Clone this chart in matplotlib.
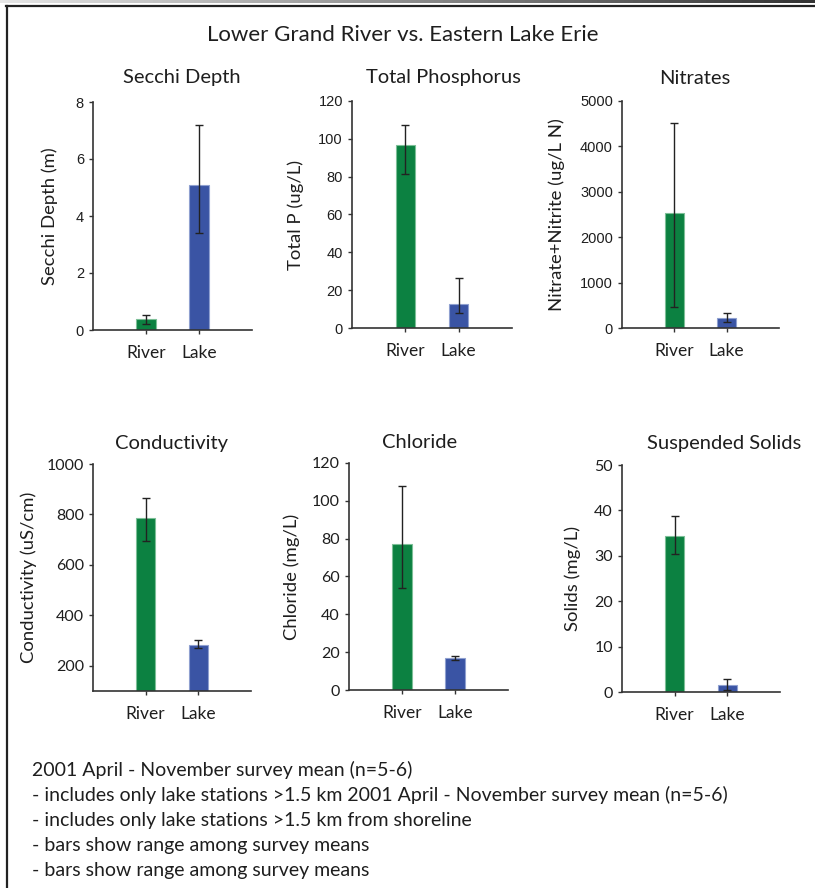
import numpy as np
import matplotlib
matplotlib.use("Agg")
import matplotlib.pyplot as plt
from matplotlib.lines import Line2D

# -------------------------------
# Survey data (2001, April - November)
# -------------------------------
sites = ["River", "Lake"]

secchi = [0.39, 5.1]
secchi_lo = [0.22, 3.4]
secchi_hi = [0.54, 7.2]

phos = [97.0, 12.7]
phos_lo = [81.6, 8.1]
phos_hi = [107.3, 26.4]

nitrate = [2540, 220]
nitrate_lo = [455, 125]
nitrate_hi = [4510, 323]

cond = [785, 281]
cond_lo = [696, 270]
cond_hi = [865, 304]

chloride = [77.4, 16.7]
chloride_lo = [53.8, 15.7]
chloride_hi = [107.9, 17.8]

solids = [34.3, 1.5]
solids_lo = [30.5, 0.5]
solids_hi = [38.7, 2.8]

notes = [
    "2001 April - November survey mean (n=5-6)",
    "- includes only lake stations >1.5 km 2001 April - November survey mean (n=5-6)",
    "- includes only lake stations >1.5 km from shoreline",
    "- bars show range among survey means",
    "- bars show range among survey means",
]

# -------------------------------
# Style
# -------------------------------
GREEN = "#0C8141"
BLUE = "#3A54A4"
AXIS_COLOR = "#333333"
TEXT_COLOR = "#1E1E1E"
MAIN_FONT = "Lato"
TICK_FONT = "Liberation Sans"

W, H = 815, 888
fig = plt.figure(figsize=(W / 100, H / 100), dpi=100)


def px_rect(x0, y0, x1, y1):
    return [x0 / W, 1 - y1 / H, (x1 - x0) / W, (y1 - y0) / H]


panels = [
    # title, ylabel, values, lo, hi, ylim, yticks, axes box, title x, label x, top row
    ("Secchi Depth", "Secchi Depth (m)", secchi, secchi_lo, secchi_hi,
     (0, 8), [0, 2, 4, 6, 8], (93, 102, 252, 330), 182, 58, True),
    ("Total Phosphorus", "Total P (ug/L)", phos, phos_lo, phos_hi,
     (0, 120), [0, 20, 40, 60, 80, 100, 120], (352, 101, 512, 328), 443, 304, True),
    ("Nitrates", "Nitrate+Nitrite (ug/L N)", nitrate, nitrate_lo, nitrate_hi,
     (0, 5000), [0, 1000, 2000, 3000, 4000, 5000], (622, 101, 779, 328), 695, 565, True),
    ("Conductivity", "Conductivity (uS/cm)", cond, cond_lo, cond_hi,
     (100, 1000), [200, 400, 600, 800, 1000], (93, 464, 251, 691), 172, 37, False),
    ("Chloride", "Chloride (mg/L)", chloride, chloride_lo, chloride_hi,
     (0, 120), [0, 20, 40, 60, 80, 100, 120], (349, 463, 508, 690), 420, 300, False),
    ("Suspended Solids", "Solids (mg/L)", solids, solids_lo, solids_hi,
     (0, 50), [0, 10, 20, 30, 40, 50], (622, 465, 780, 692), 724, 581, False),
]

x = np.arange(len(sites))

for title, ylabel, vals, lo, hi, ylim, yticks, box, tx, lx, top in panels:
    ax = fig.add_axes(px_rect(*box))
    vals = np.array(vals)
    yerr = [vals - np.array(lo), np.array(hi) - vals]
    ax.bar(x, vals, width=0.36, color=[GREEN, BLUE],
           edgecolor=["#7DBF97", "#8FA0D0"], linewidth=0.8, zorder=2)
    ax.errorbar(x, vals, yerr=yerr, fmt="none", ecolor="#222222",
                elinewidth=1.0, capsize=3, capthick=1.0, zorder=3)
    ax.set_xlim(-1, 2)
    ax.set_ylim(*ylim)
    ax.set_yticks(yticks)
    ax.set_xticks(x)
    ax.set_xticklabels(sites, fontfamily=MAIN_FONT, fontsize=12.5)
    for side in ["top", "right"]:
        ax.spines[side].set_visible(False)
    for side in ["left", "bottom"]:
        ax.spines[side].set_color(AXIS_COLOR)
        ax.spines[side].set_linewidth(1.2)
    ax.tick_params(axis="both", direction="out", length=3, width=1.0,
                   color=AXIS_COLOR, colors=TEXT_COLOR)
    ax.tick_params(axis="x", pad=8)
    for lab in ax.get_yticklabels():
        if top:
            lab.set_fontfamily(TICK_FONT)
            lab.set_fontsize(10.5)
        else:
            lab.set_fontfamily(MAIN_FONT)
            lab.set_fontsize(11.5)
    ax.set_ylabel(ylabel, fontfamily=MAIN_FONT, fontsize=13.3, color=TEXT_COLOR)
    ax.yaxis.set_label_coords((lx - box[0]) / (box[2] - box[0]), 0.5)
    ty = 78 if top else 443
    fig.text(tx / W, 1 - ty / H, title, ha="center", va="center",
             fontfamily=MAIN_FONT, fontsize=14.5, color=TEXT_COLOR)

fig.text(403 / W, 1 - 35 / H, "Lower Grand River vs. Eastern Lake Erie",
         ha="center", va="center", fontfamily=MAIN_FONT, fontsize=16,
         color=TEXT_COLOR)

for i, line in enumerate(notes):
    fig.text(32 / W, 1 - (770 + 25 * i) / H, line, ha="left", va="center",
             fontfamily=MAIN_FONT, fontsize=14, color=TEXT_COLOR)

# page frame: shaded strip on top, dark rule and left edge
strip = fig.add_axes([0, 1 - 3 / H, 1, 3 / H])
strip.imshow(np.linspace(0.9, 0.2, 256)[None, :], cmap="gray", vmin=0, vmax=1,
             aspect="auto", extent=[0, 1, 0, 1])
strip.axis("off")
fig.add_artist(Line2D([6 / W, 1], [1 - 6.5 / H, 1 - 6.5 / H], color="#222222",
                      lw=1.6, transform=fig.transFigure))
fig.add_artist(Line2D([6.5 / W, 6.5 / W], [0, 1 - 6.5 / H], color="#222222",
                      lw=1.6, transform=fig.transFigure))

fig.savefig("out.png", dpi=100)
